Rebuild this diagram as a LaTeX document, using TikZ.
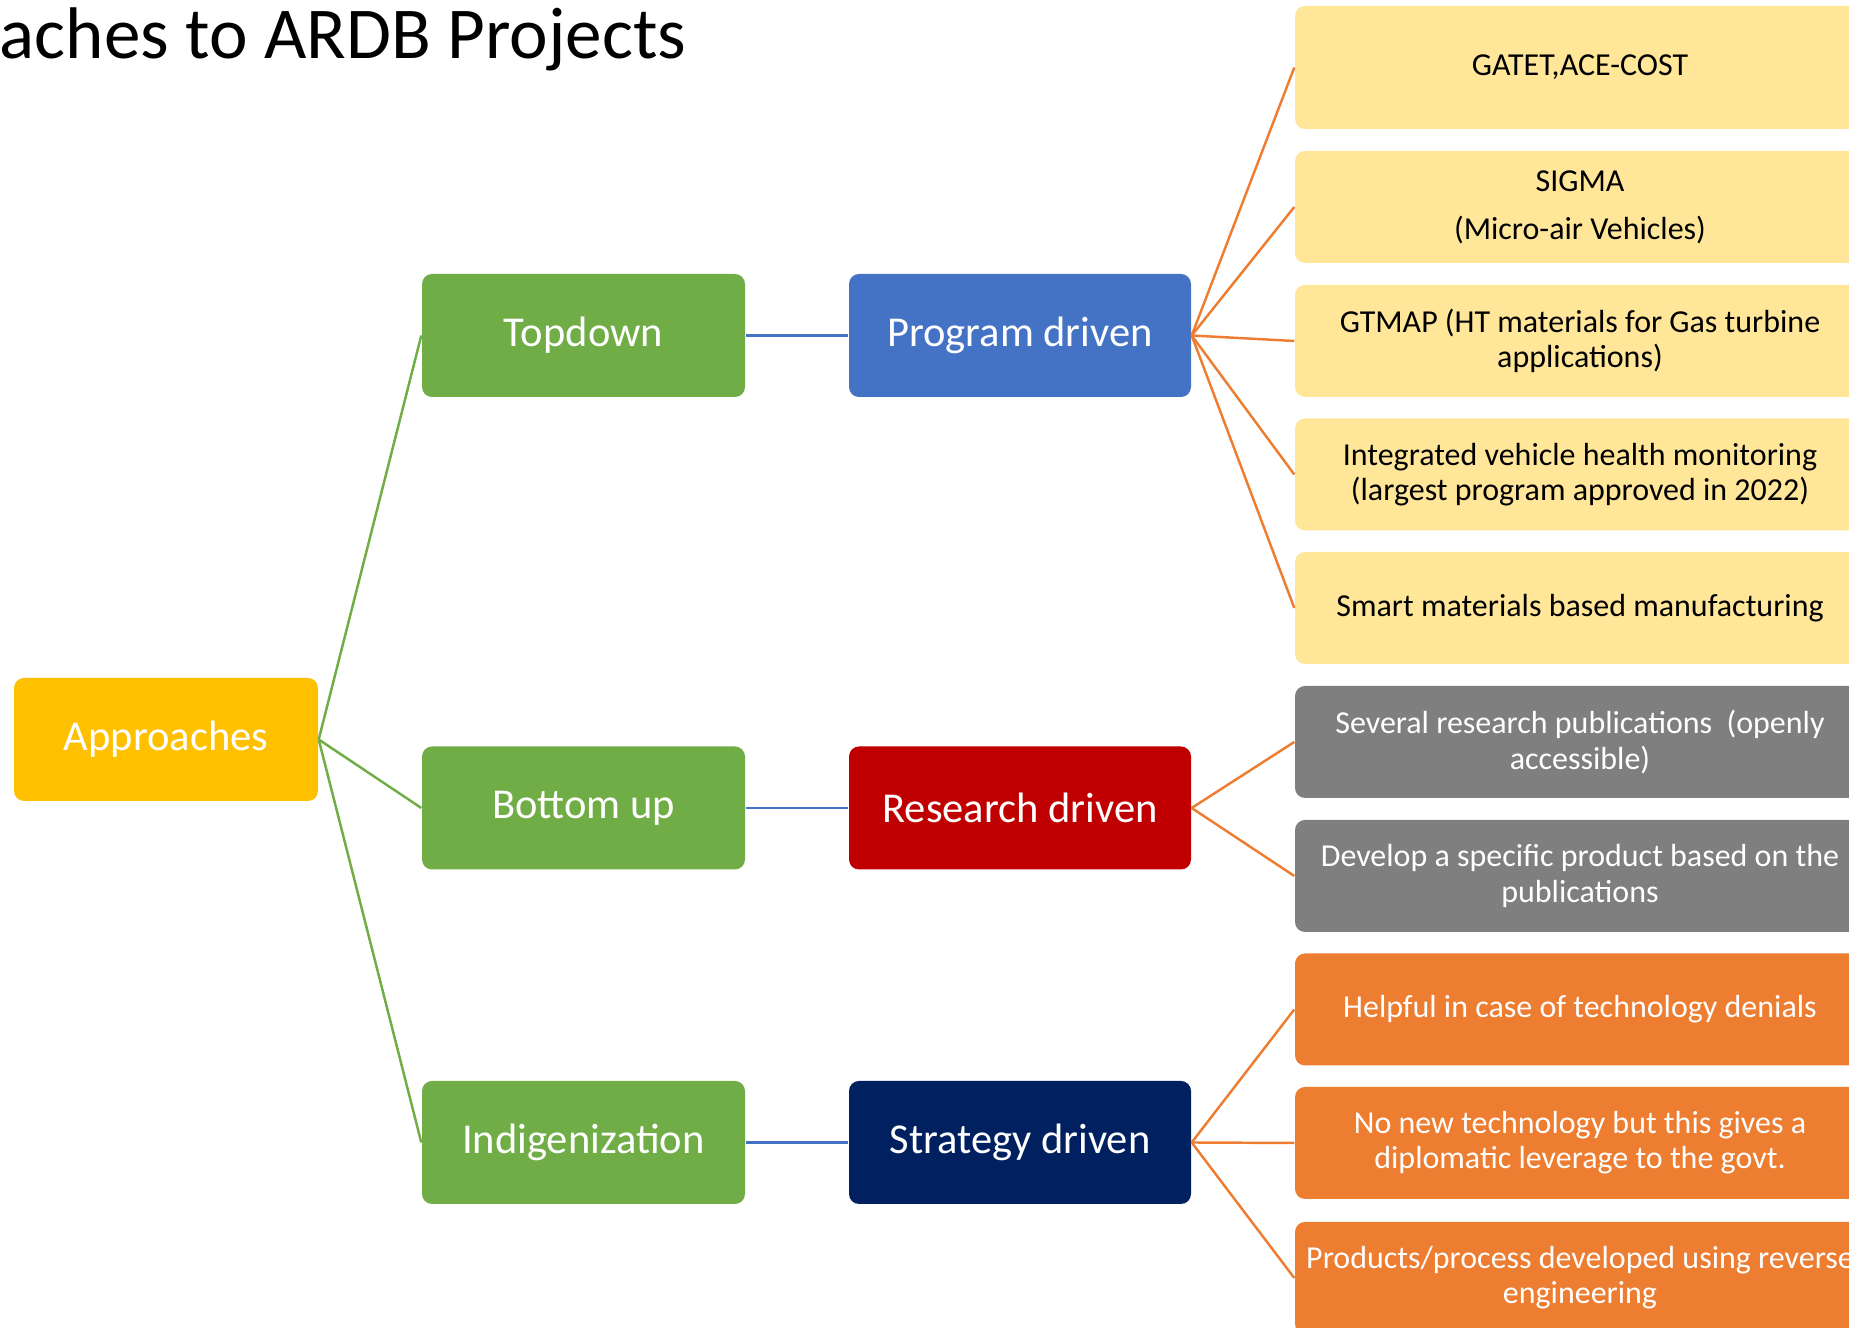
\documentclass[tikz,border=0pt]{standalone}
\usepackage{fontspec}
\setmainfont{Carlito}
\definecolor{apprgold}{HTML}{FFC000}
\definecolor{leafgreen}{HTML}{70AD47}
\definecolor{progblue}{HTML}{4472C4}
\definecolor{resred}{HTML}{C00000}
\definecolor{stratnavy}{HTML}{002060}
\definecolor{paleyellow}{HTML}{FFE699}
\definecolor{midgray}{HTML}{7F7F7F}
\definecolor{lineorange}{HTML}{ED7D31}

\begin{document}
\begin{tikzpicture}[
  mainbox/.style={rounded corners=0.1cm, minimum height=1.23cm, text=white,
    font=\fontsize{12.1}{14.5}\selectfont},
  leafbox/.style={rounded corners=0.1cm, minimum width=5.7cm, minimum height=1.12cm,
    align=center, inner sep=0pt, font=\fontsize{9.1}{10}\selectfont},
  greenlink/.style={draw=leafgreen, line width=0.7pt},
  bluelink/.style={draw=progblue, line width=0.7pt},
  orangelink/.style={draw=lineorange, line width=0.7pt}
]
\useasboundingbox (0,0) rectangle (18.49,13.28);
% ==========================================
\node (title) [anchor=base west, inner sep=0pt, font=\fontsize{20.8}{25}\selectfont] at (-0.01,12.69)
  {aches to ARDB Projects};
%
\node (appr) [mainbox, fill=apprgold, minimum width=3.04cm] at (1.66,5.885) {Approaches};
%
\node (topdown) [mainbox, fill=leafgreen, minimum width=3.23cm] at (5.835,9.925) {Topdown};
\node (bottomup) [mainbox, fill=leafgreen, minimum width=3.23cm] at (5.835,5.20) {Bottom up};
\node (indig) [mainbox, fill=leafgreen, minimum width=3.23cm] at (5.835,1.855) {Indigenization};
%
\node (program) [mainbox, fill=progblue, minimum width=3.42cm] at (10.20,9.925) {Program driven};
\node (research) [mainbox, fill=resred, minimum width=3.42cm] at (10.20,5.20) {Research driven};
\node (strategy) [mainbox, fill=stratnavy, minimum width=3.42cm] at (10.20,1.855) {Strategy driven};
%
% program driven
\node (gatet) [leafbox, fill=paleyellow, minimum height=1.23cm] at (15.80,12.605) {GATET,ACE-COST};
\node (sigma) [leafbox, fill=paleyellow] at (15.80,11.21) {SIGMA\\[0.13cm](Micro-air Vehicles)};
\node (gtmap) [leafbox, fill=paleyellow] at (15.80,9.87)
  {GTMAP (HT materials for Gas turbine\\applications)};
\node (ivhm) [leafbox, fill=paleyellow] at (15.80,8.535)
  {Integrated vehicle health monitoring\\(largest program approved in 2022)};
\node (smart) [leafbox, fill=paleyellow] at (15.80,7.20) {Smart materials based manufacturing};
%
% research driven
\node (pubs) [leafbox, fill=midgray, text=white] at (15.80,5.86)
  {Several research publications~~(openly\\accessible)};
\node (product) [leafbox, fill=midgray, text=white] at (15.80,4.52)
  {Develop a specific product based on the\\publications};
%
% strategy driven
\node (denial) [leafbox, fill=lineorange, text=white] at (15.80,3.185)
  {Helpful in case of technology denials};
\node (diplo) [leafbox, fill=lineorange, text=white] at (15.80,1.85)
  {No new technology but this gives a\\diplomatic leverage to the govt.};
\node (reverse) [leafbox, fill=lineorange, text=white] at (15.80,0.50)
  {Products/process developed using reverse\\engineering};
% =============================================
\draw[greenlink] (appr.east) -- (topdown.west);
\draw[greenlink] (appr.east) -- (bottomup.west);
\draw[greenlink] (appr.east) -- (indig.west);
%
\draw[bluelink] (topdown) -- (program);
\draw[bluelink] (bottomup) -- (research);
\draw[bluelink] (indig) -- (strategy);
%
\foreach \leaf in {gatet,sigma,gtmap,ivhm,smart}
  \draw[orangelink] (program.east) -- (\leaf.west);
\foreach \leaf in {pubs,product}
  \draw[orangelink] (research.east) -- (\leaf.west);
\foreach \leaf in {denial,diplo,reverse}
  \draw[orangelink] (strategy.east) -- (\leaf.west);
% =============================================
\end{tikzpicture}
\end{document}
